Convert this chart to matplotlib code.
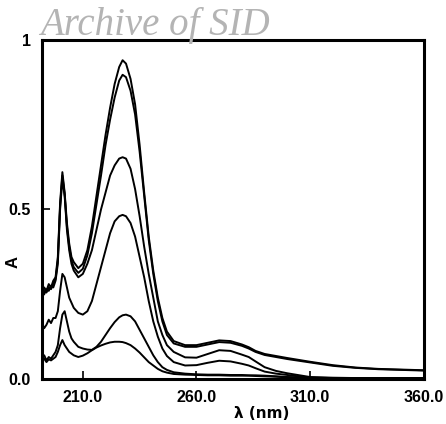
import matplotlib
matplotlib.use("Agg")
import matplotlib.pyplot as plt

# wavelength grid (nm) shared by all spectra
wl = [192, 193, 194, 195, 196, 197, 198, 199, 200, 201, 202, 203, 204, 205,
      206, 208, 210, 212, 214, 216, 218, 220, 222, 224, 226, 227.5,
      229, 231, 233, 235, 237, 239, 241, 243, 245, 247,
      250, 255, 260, 265, 270, 275, 280, 283, 286, 290, 295, 300,
      310, 320, 330, 340, 350, 360]

# absorbance of each spectrum
a1 = [0.25, 0.27, 0.26, 0.28, 0.27, 0.29, 0.30, 0.36, 0.52, 0.61, 0.55, 0.46, 0.40, 0.36,
      0.345, 0.327, 0.34, 0.38, 0.45, 0.54, 0.63, 0.72, 0.80, 0.87, 0.92, 0.94,
      0.93, 0.885, 0.81, 0.69, 0.55, 0.42, 0.32, 0.24, 0.18, 0.14,
      0.112, 0.10, 0.10, 0.107, 0.114, 0.112, 0.102, 0.094, 0.083, 0.074, 0.068, 0.062,
      0.051, 0.041, 0.034, 0.030, 0.028, 0.026]
a2 = [0.24, 0.26, 0.255, 0.27, 0.265, 0.28, 0.295, 0.35, 0.51, 0.60, 0.545, 0.45, 0.39, 0.35,
      0.33, 0.313, 0.325, 0.365, 0.43, 0.515, 0.60, 0.69, 0.765, 0.83, 0.88, 0.897,
      0.89, 0.85, 0.78, 0.67, 0.54, 0.41, 0.31, 0.23, 0.17, 0.13,
      0.105, 0.095, 0.095, 0.102, 0.109, 0.107, 0.098, 0.09, 0.08, 0.071, 0.065, 0.059,
      0.049, 0.039, 0.033, 0.029, 0.027, 0.025]
a3 = [0.245, 0.25, 0.265, 0.26, 0.275, 0.27, 0.29, 0.34, 0.50, 0.59, 0.54, 0.44, 0.38, 0.34,
      0.32, 0.30, 0.31, 0.34, 0.38, 0.44, 0.50, 0.55, 0.60, 0.63, 0.65, 0.654,
      0.65, 0.62, 0.56, 0.48, 0.39, 0.31, 0.24, 0.17, 0.13, 0.10,
      0.08, 0.064, 0.063, 0.074, 0.085, 0.083, 0.072, 0.065, 0.052, 0.035, 0.024, 0.017,
      0.006, 0.004, 0.003, 0.003, 0.003, 0.003]
a4 = [0.165, 0.15, 0.16, 0.175, 0.165, 0.18, 0.18, 0.20, 0.26, 0.31, 0.30, 0.27, 0.24, 0.225,
      0.21, 0.195, 0.19, 0.20, 0.23, 0.28, 0.33, 0.38, 0.43, 0.465, 0.48, 0.484,
      0.48, 0.46, 0.42, 0.36, 0.30, 0.23, 0.17, 0.125, 0.09, 0.068,
      0.05, 0.04, 0.041, 0.048, 0.054, 0.052, 0.045, 0.04, 0.032, 0.022, 0.016, 0.012,
      0.004, 0.003, 0.003, 0.003, 0.003, 0.003]
a5 = [0.06, 0.07, 0.055, 0.065, 0.06, 0.07, 0.08, 0.10, 0.15, 0.19, 0.20, 0.17, 0.14, 0.12,
      0.11, 0.095, 0.09, 0.087, 0.086, 0.095, 0.11, 0.13, 0.15, 0.168, 0.182, 0.188,
      0.19, 0.185, 0.17, 0.145, 0.12, 0.095, 0.07, 0.05, 0.035, 0.027,
      0.02, 0.016, 0.014, 0.013, 0.013, 0.012, 0.012, 0.011, 0.011, 0.01, 0.008, 0.006,
      0.004, 0.003, 0.003, 0.003, 0.003, 0.003]
a6 = [0.055, 0.06, 0.05, 0.058, 0.055, 0.06, 0.065, 0.08, 0.10, 0.115, 0.10, 0.09, 0.08, 0.075,
      0.07, 0.065, 0.069, 0.076, 0.085, 0.093, 0.099, 0.104, 0.108, 0.11, 0.11, 0.109,
      0.106, 0.10, 0.09, 0.078, 0.064, 0.05, 0.04, 0.03, 0.023, 0.019,
      0.015, 0.013, 0.012, 0.011, 0.011, 0.01, 0.01, 0.01, 0.009, 0.008, 0.007, 0.005,
      0.003, 0.003, 0.003, 0.003, 0.003, 0.003]

x_ticks = [210, 260, 310, 360]
x_labels = ["210.0", "260.0", "310.0", "360.0"]
y_ticks = [0, 0.5, 1]
y_labels = ["0.0", "0.5", "1"]

fig = plt.figure(figsize=(4.46, 4.24), dpi=100)
ax = fig.add_axes([0.094, 0.106, 0.856, 0.800])

for a in [a1, a2, a3, a4, a5, a6]:
    ax.plot(wl, a, color="black", lw=1.4)

ax.set_xlim(192, 360)
ax.set_ylim(0, 1)
ax.set_xticks(x_ticks)
ax.set_xticklabels(x_labels)
ax.set_yticks(y_ticks)
ax.set_yticklabels(y_labels)
ax.tick_params(direction="in", length=6, width=1.2, pad=8)
for lab in ax.get_xticklabels() + ax.get_yticklabels():
    lab.set_fontfamily("Liberation Sans")
    lab.set_fontweight("bold")
    lab.set_fontsize(11.5)
for s in ax.spines.values():
    s.set_linewidth(2.2)

ax.set_xlabel("λ (nm)", fontsize=11, fontweight="bold", family="DejaVu Sans")
ax.xaxis.set_label_coords(0.575, -0.078)
ax.set_ylabel("A", fontsize=12, fontweight="bold", family="Liberation Sans")
ax.yaxis.set_label_coords(-0.055, 0.345)

# scanned watermark at the top
fig.text(0.09, 0.918, "Archive of SID", family="Liberation Serif", style="italic",
         fontsize=28, color="#b4b4b4", ha="left", va="baseline")

fig.savefig("out.png", dpi=100)
